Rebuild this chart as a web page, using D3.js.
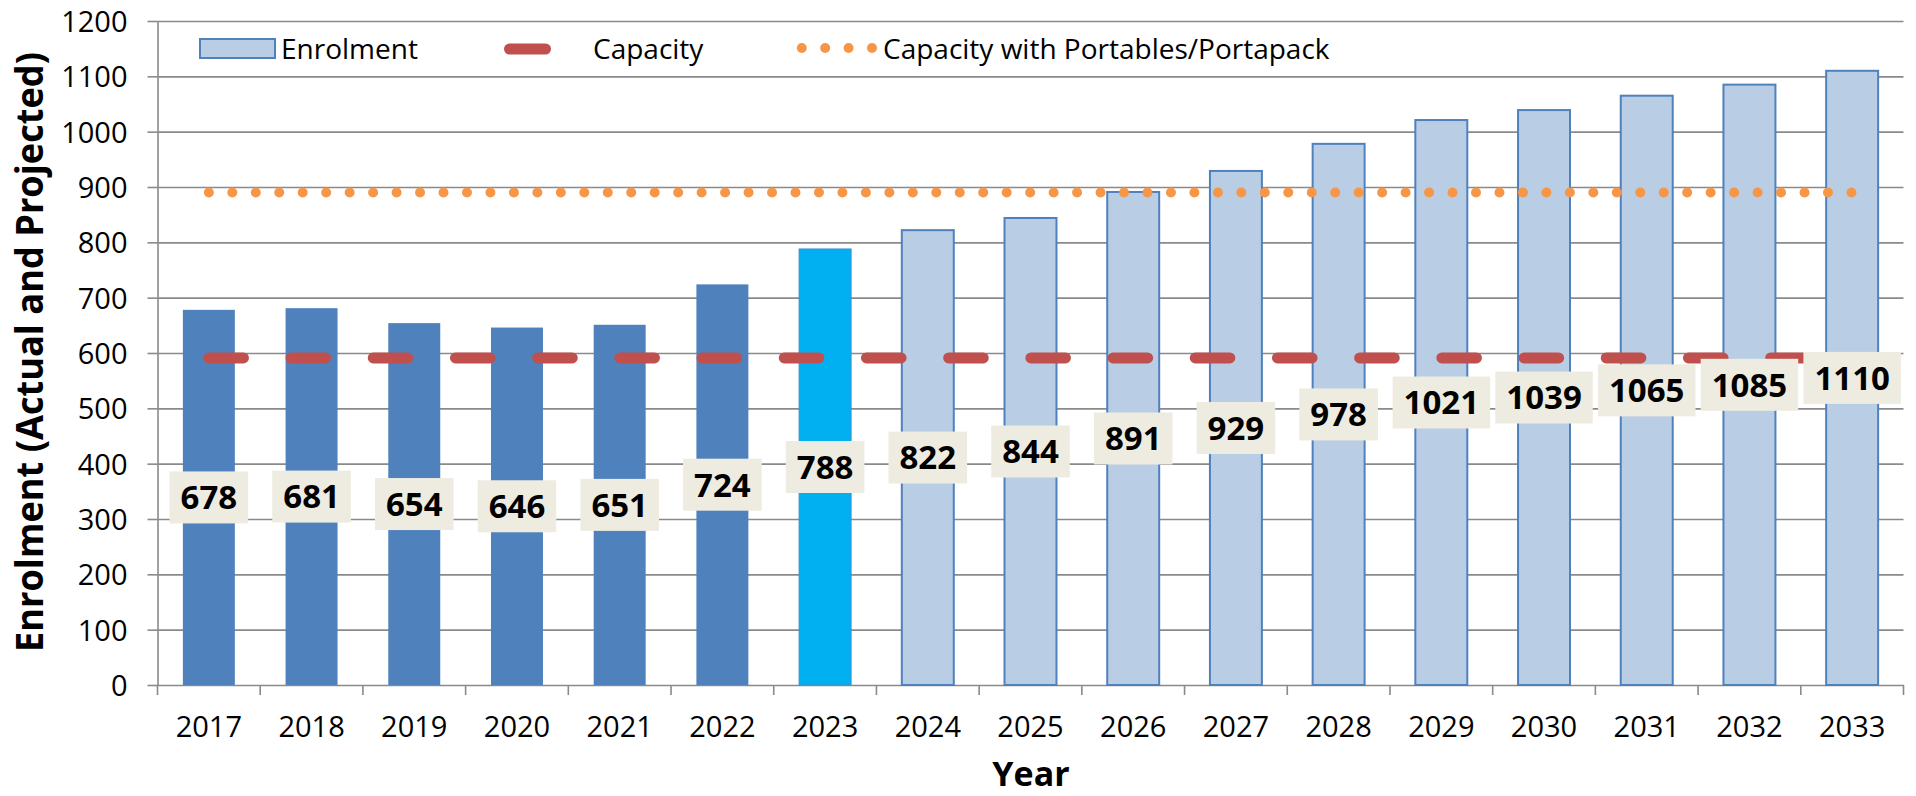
<!DOCTYPE html>
<html>
<head>
<meta charset="utf-8">
<script src="https://cdn.jsdelivr.net/npm/d3@7"></script>
<style>
  body { margin: 0; background: #fff; }
  svg text { font-family: "Open Sans", sans-serif; fill: #000; }
</style>
</head>
<body>
<div id="chart-area"></div>
<script>
// values
var years = ["2017","2018","2019","2020","2021","2022","2023","2024","2025",
             "2026","2027","2028","2029","2030","2031","2032","2033"];
var enrolment = [678, 681, 654, 646, 651, 724, 788, 822, 844, 891, 929, 978, 1021, 1039, 1065, 1085, 1110];
var capacity = [591, 591, 591, 591, 591, 591, 591, 591, 591, 591, 591, 591, 591, 591, 591, 591, 591];
var portables = [890, 890, 890, 890, 890, 890, 890, 890, 890, 890, 890, 890, 890, 890, 890, 890, 890];
var yTicks = [0, 100, 200, 300, 400, 500, 600, 700, 800, 900, 1000, 1100, 1200];
var currentYear = "2023";

var width = 1916, height = 796;
var plot = { left: 157.5, right: 1903.5, top: 21, bottom: 685 };

var svg = d3.select("#chart-area")
    .append("svg")
        .attr("width", width)
        .attr("height", height);

var x = d3.scaleBand()
    .domain(years)
    .range([plot.left, plot.right])
    .paddingInner(0.494)
    .paddingOuter(0.247);

var y = d3.scaleLinear()
    .domain([0, 1200])
    .range([plot.bottom, plot.top]);

var bw = x.bandwidth();
function cx(i){ return x(years[i]) + bw / 2; }

// gridlines
svg.append("g")
    .attr("class", "grid")
    .attr("transform", "translate(" + plot.left + ",0)")
    .call(d3.axisLeft(y).tickValues(yTicks.slice(1)).tickSize(-(plot.right - plot.left)).tickFormat(""))
    .call(function(g){ g.select(".domain").remove(); })
    .selectAll("line")
        .attr("stroke", "#8a8a8a")
        .attr("stroke-width", 1.6);

// Y axis
var yAxisGroup = svg.append("g")
    .attr("transform", "translate(" + plot.left + ",0)")
    .call(d3.axisLeft(y).tickValues(yTicks).tickFormat(d3.format("d"))
        .tickSize(10).tickPadding(20).tickSizeOuter(0));
yAxisGroup.select(".domain").attr("stroke", "#8a8a8a").attr("stroke-width", 1.6);
yAxisGroup.selectAll("line").attr("stroke", "#8a8a8a").attr("stroke-width", 1.6);
yAxisGroup.selectAll("text")
    .attr("font-size", "29px")
    .attr("font-family", "'Open Sans', sans-serif")
    .attr("dy", "0.36em");

// X axis
var xAxisGroup = svg.append("g")
    .attr("transform", "translate(0," + plot.bottom + ")")
    .call(d3.axisBottom(x).tickSize(0).tickPadding(31).tickSizeOuter(0));
xAxisGroup.select(".domain").attr("stroke", "#8a8a8a").attr("stroke-width", 1.6);
xAxisGroup.selectAll("text")
    .attr("font-size", "29px")
    .attr("font-family", "'Open Sans', sans-serif");

// category boundary ticks
var edges = years.map(function(d){ return x(d) - x.step() * x.paddingInner() / 2; });
edges.push(plot.right);
xAxisGroup.selectAll(".edge")
    .data(edges)
    .enter().append("line")
        .attr("class", "edge")
        .attr("x1", function(d){ return d; })
        .attr("x2", function(d){ return d; })
        .attr("y1", 0)
        .attr("y2", 10)
        .attr("stroke", "#8a8a8a")
        .attr("stroke-width", 1.6);

// bars
function barFill(d){
    if (d < currentYear) return "#4F81BD";
    if (d === currentYear) return "#00B0F0";
    return "#B9CDE5";
}
svg.append("g").selectAll("rect")
    .data(years)
    .enter().append("rect")
        .attr("x", function(d){ return x(d); })
        .attr("y", function(d, i){ return y(enrolment[i]); })
        .attr("width", bw)
        .attr("height", function(d, i){ return plot.bottom - y(enrolment[i]); })
        .attr("fill", barFill)
        .attr("stroke", function(d){ return d < currentYear ? "none" : (d === currentYear ? "#3A8FD0" : "#4F81BD"); })
        .attr("stroke-width", function(d){ return d === currentYear ? 1 : 2; });

// capacity lines
var line = d3.line()
    .x(function(d, i){ return cx(i); })
    .y(function(d){ return y(d); });

svg.append("path")
    .datum(capacity)
    .attr("d", line)
    .attr("fill", "none")
    .attr("stroke", "#C0504D")
    .attr("stroke-width", 11)
    .attr("stroke-linecap", "round")
    .attr("stroke-dasharray", "34.6,47.6");

var dotGap = (cx(years.length - 1) - cx(0)) / 70 - 0.01;
svg.append("path")
    .datum(portables)
    .attr("d", line)
    .attr("fill", "none")
    .attr("stroke", "#F79646")
    .attr("stroke-width", 10)
    .attr("stroke-linecap", "round")
    .attr("stroke-dasharray", "0," + dotGap);

// data labels
var labels = svg.append("g").selectAll("g")
    .data(years)
    .enter().append("g")
        .attr("transform", function(d, i){
            return "translate(" + cx(i) + "," + y(enrolment[i] / 2) + ")";
        });
var labelRects = labels.append("rect")
    .attr("fill", "#EEECE1");
var labelTexts = labels.append("text")
    .attr("text-anchor", "middle")
    .attr("dy", "0.36em")
    .attr("font-size", "33px")
    .attr("font-weight", "bold")
    .text(function(d, i){ return enrolment[i]; });
labelTexts.each(function(d, i){
    var w = this.getComputedTextLength() + 22;
    d3.select(labelRects.nodes()[i])
        .attr("x", -w / 2)
        .attr("y", -26)
        .attr("width", w)
        .attr("height", 52);
});

// legend
var legend = svg.append("g");
legend.append("rect")
    .attr("x", 200).attr("y", 39)
    .attr("width", 75).attr("height", 19)
    .attr("fill", "#B9CDE5")
    .attr("stroke", "#4F81BD")
    .attr("stroke-width", 2);
legend.append("text")
    .attr("x", 281).attr("y", 58.5)
    .attr("font-size", "28px")
    .text("Enrolment");

legend.append("line")
    .attr("x1", 509.5).attr("x2", 545.5)
    .attr("y1", 49).attr("y2", 49)
    .attr("stroke", "#C0504D")
    .attr("stroke-width", 11)
    .attr("stroke-linecap", "round");
legend.append("text")
    .attr("x", 593).attr("y", 58.5)
    .attr("font-size", "28px")
    .text("Capacity");

legend.append("line")
    .attr("x1", 801.8).attr("x2", 873)
    .attr("y1", 48).attr("y2", 48)
    .attr("stroke", "#F79646")
    .attr("stroke-width", 10)
    .attr("stroke-linecap", "round")
    .attr("stroke-dasharray", "0,23.4");
legend.append("text")
    .attr("x", 883).attr("y", 58.5)
    .attr("font-size", "28px")
    .text("Capacity with Portables/Portapack");

// axis titles
svg.append("text")
    .attr("x", 1031)
    .attr("y", 786)
    .attr("text-anchor", "middle")
    .attr("font-size", "34px")
    .attr("font-weight", "bold")
    .text("Year");

svg.append("text")
    .attr("transform", "translate(43,352) rotate(-90)")
    .attr("text-anchor", "middle")
    .attr("font-size", "38px")
    .attr("font-weight", "bold")
    .attr("textLength", 600)
    .attr("lengthAdjust", "spacingAndGlyphs")
    .text("Enrolment (Actual and Projected)");
</script>
</body>
</html>
